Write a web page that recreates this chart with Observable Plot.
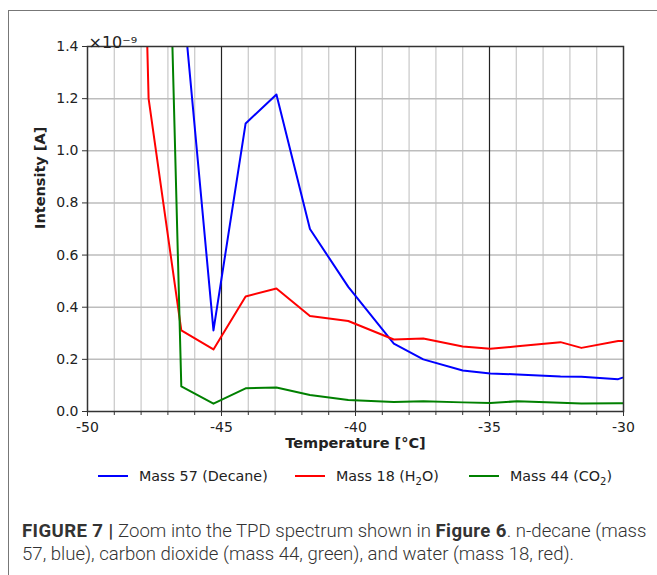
<!DOCTYPE html>
<html>
<head>
<meta charset="utf-8">
<script src="https://cdn.jsdelivr.net/npm/d3@7"></script>
<script src="https://cdn.jsdelivr.net/npm/@observablehq/plot@0.6"></script>
<style>
  html, body { margin: 0; padding: 0; background: #fff; }
  #wrap { position: relative; width: 657px; height: 575px; overflow: hidden; }
  #box { position: absolute; left: 8px; top: 10px; width: 700px; height: 600px;
         border-left: 1.5px solid #777; border-top: 1.5px solid #777; }
  #chart { position: absolute; left: 0; top: 0; }
  .leg { position: absolute; top: 468px; font-family: "DejaVu Sans"; font-size: 14.3px; color: #222; white-space: nowrap; }
  .leg .sw { display: inline-block; width: 30px; height: 0; border-top: 2px solid; vertical-align: middle; margin-right: 11px; position: relative; top: -1px; }
  .leg sub { font-size: 10px; }
  #caption { position: absolute; left: 22px; top: 520px; font-family: Roboto, "Noto Sans", sans-serif;
             font-weight: 300; font-size: 18.6px; line-height: 23px; color: #333; white-space: nowrap; }
  #caption b { font-weight: 700; letter-spacing: 0.4px; }
</style>
</head>
<body>
<div id="wrap">
  <div id="box"></div>
  <div id="chart"></div>
  <div class="leg" style="left:98px"><span class="sw" style="border-color:#0000ff"></span>Mass 57 (Decane)</div>
  <div class="leg" style="left:295px"><span class="sw" style="border-color:#ff0000"></span>Mass 18 (H<sub>2</sub>O)</div>
  <div class="leg" style="left:469px"><span class="sw" style="border-color:#008000"></span>Mass 44 (CO<sub>2</sub>)</div>
  <div id="caption"><b>FIGURE 7 |</b> Zoom into the TPD spectrum shown in <b>Figure 6</b>. n-decane (mass<br>57, blue), carbon dioxide (mass 44, green), and water (mass 18, red).</div>
</div>
<script>
// Temperatures [°C] (shared sampling of the TPD scan)
const temperature = [-48.9, -47.72, -46.5, -45.3, -44.1, -42.95, -41.7, -40.27, -38.57, -37.47, -36.0, -34.97, -33.96, -32.35, -31.57, -30.2, -29.2];
// Intensities in units of 1e-9 A
const mass57 = [5.0, 3.0, 1.65, 0.311, 1.105, 1.216, 0.70, 0.478, 0.26, 0.20, 0.157, 0.146, 0.142, 0.134, 0.133, 0.124, 0.16];
const mass18 = [6.0, 1.2, 0.311, 0.238, 0.441, 0.472, 0.366, 0.347, 0.276, 0.28, 0.249, 0.241, 0.25, 0.266, 0.244, 0.27, 0.27];
const mass44 = [9.0, 4.9, 0.096, 0.03, 0.089, 0.092, 0.063, 0.044, 0.036, 0.039, 0.035, 0.033, 0.039, 0.034, 0.031, 0.032, 0.032];

const seriesNames = ["Mass 57 (Decane)", "Mass 18 (H2O)", "Mass 44 (CO2)"];
const seriesColors = ["#0000ff", "#ff0000", "#008000"];

const xTicks = [-50, -45, -40, -35, -30];
const xMajorGrid = [-45, -40, -35];
const xMinorTicks = [-49, -48, -47, -46, -44, -43, -42, -41, -39, -38, -37, -36, -34, -33, -32, -31];
const yTicks = [0, 0.2, 0.4, 0.6, 0.8, 1.0, 1.2, 1.4];
const yGrid = [0.2, 0.4, 0.6, 0.8, 1.0, 1.2];

const rows = [];
[mass57, mass18, mass44].forEach((vals, s) => {
  vals.forEach((v, i) => rows.push({series: seriesNames[s], t: temperature[i], v}));
});

const chart = Plot.plot({
  width: 657,
  height: 460,
  marginLeft: 87,
  marginRight: 34,
  marginTop: 46,
  marginBottom: 49,
  style: {fontFamily: "DejaVu Sans", fontSize: "14px", color: "#222", background: "transparent"},
  x: {domain: [-50, -30]},
  y: {domain: [0, 1.4]},
  color: {domain: seriesNames, range: seriesColors},
  marks: [
    Plot.ruleX(xMinorTicks, {stroke: "#cccccc", strokeWidth: 1.3}),
    Plot.ruleY(yGrid, {stroke: "#bdbdbd", strokeWidth: 1.5}),
    Plot.ruleX(xMajorGrid, {stroke: "#222", strokeWidth: 1.2}),
    Plot.line(rows, {x: "t", y: "v", z: "series", stroke: "series", strokeWidth: 2, clip: true}),
    Plot.frame({stroke: "#333", strokeWidth: 1.5}),
    Plot.axisX({ticks: xTicks, tickSize: 5, tickPadding: 6, fontSize: 14, tickFormat: d => String(d), label: null, stroke: "#333"}),
    Plot.axisX({ticks: xMinorTicks, tickSize: 4, text: null, label: null, stroke: "#333"}),
    Plot.axisY({ticks: yTicks, tickSize: 5, tickPadding: 4, fontSize: 14, tickFormat: d3.format(".1f"), label: null, stroke: "#333"}),
    Plot.text(["Temperature [°C]"], {frameAnchor: "bottom", dy: 36, fontWeight: "bold", fontSize: 14.5}),
    Plot.text(["Intensity [A]"], {frameAnchor: "left", dx: -47, rotate: -90, fontWeight: "bold", fontSize: 14.5}),
    Plot.text(["×10⁻⁹"], {frameAnchor: "top-left", dy: -10, dx: 1, textAnchor: "start", fontSize: 16})
  ]
});
document.getElementById("chart").appendChild(chart);
</script>
</body>
</html>
